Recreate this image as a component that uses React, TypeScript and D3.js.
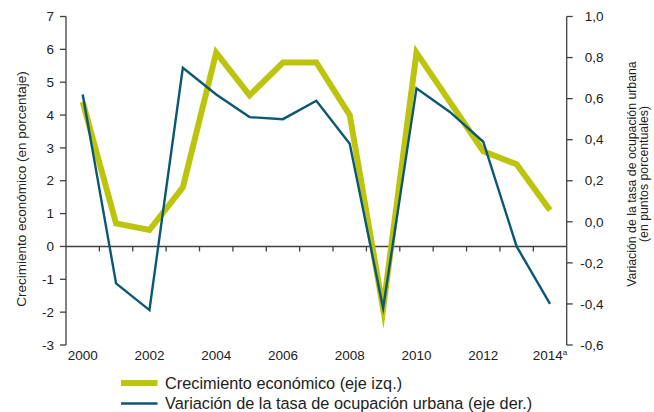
import React from "react";
import * as d3 from "d3";

const years = ["2000","2001","2002","2003","2004","2005","2006","2007","2008","2009","2010","2011","2012","2013","2014"];
const yearLabels = ["2000","","2002","","2004","","2006","","2008","","2010","","2012","","2014"];
const growth = [4.4, 0.7, 0.5, 1.8, 5.9, 4.6, 5.6, 5.6, 4.0, -1.9, 5.9, 4.4, 2.9, 2.5, 1.1];
const employment = [0.62, -0.30, -0.43, 0.75, 0.62, 0.51, 0.50, 0.59, 0.38, -0.42, 0.65, 0.535, 0.39, -0.12, -0.40];
const leftTicks = [7, 6, 5, 4, 3, 2, 1, 0, -1, -2, -3];
const rightTicks = [1.0, 0.8, 0.6, 0.4, 0.2, 0.0, -0.2, -0.4, -0.6];
const seriesNames = ["Crecimiento económico (eje izq.)", "Variación de la tasa de ocupación urbana (eje der.)"];

const YELLOW = "#BDC40E";
const BLUE = "#0B5874";
const AXIS = "#404040";
const TEXT = "#222";
const FONT = "'Liberation Sans', Arial, sans-serif";

export default function App() {
  const W = 654, H = 412;
  const x0 = 66, x1 = 566.7, yTop = 16.5, yBot = 345;
  const x = d3.scaleBand<string>().domain(years).range([x0, x1]);
  const yL = d3.scaleLinear().domain([-3, 7]).range([yBot, yTop]);
  const yR = d3.scaleLinear().domain([-0.6, 1.0]).range([yBot, yTop]);
  const cx = (i: number) => (x(years[i]) as number) + x.bandwidth() / 2;
  const lineL = d3.line<number>().x((_, i) => cx(i)).y(d => yL(d));
  const lineR = d3.line<number>().x((_, i) => cx(i)).y(d => yR(d));
  const y0 = yL(0);
  const fmt = (v: number) => (v < 0 ? "-" : "") + Math.abs(v).toFixed(1).replace(".", ",");

  return (
    <svg width={W} height={H} style={{ position: "absolute", left: 0, top: 0, fontFamily: FONT }}>
      <rect width={W} height={H} fill="#fff" />
      {/* left axis */}
      <line x1={x0} x2={x0} y1={yTop} y2={yBot} stroke={AXIS} strokeWidth={1.3} />
      {leftTicks.map(t => (
        <g key={"l" + t}>
          <line x1={x0 - 6} x2={x0} y1={yL(t)} y2={yL(t)} stroke={AXIS} strokeWidth={1.3} />
          <text x={x0 - 12} y={yL(t)} dy="0.35em" textAnchor="end" fontSize={13.5} fill={TEXT}>{t}</text>
        </g>
      ))}
      {/* right axis */}
      <line x1={x1} x2={x1} y1={yTop} y2={yBot} stroke={AXIS} strokeWidth={1.3} />
      {rightTicks.map(t => (
        <g key={"r" + t}>
          <line x1={x1} x2={x1 + 6} y1={yR(t)} y2={yR(t)} stroke={AXIS} strokeWidth={1.3} />
          <text x={603.5} y={yR(t)} dy="0.35em" textAnchor="end" fontSize={13.5} fill={TEXT}>{fmt(t)}</text>
        </g>
      ))}
      {/* zero line & x ticks */}
      <line x1={x0} x2={x1} y1={y0} y2={y0} stroke={AXIS} strokeWidth={1.5} />
      {years.slice(1).map(yv => (
        <line key={"xt" + yv} x1={x(yv) as number} x2={x(yv) as number} y1={y0} y2={y0 + 5} stroke={AXIS} strokeWidth={1.3} />
      ))}
      {years.map((yv, i) => yearLabels[i] ? (
        <text key={"xl" + yv} x={cx(i)} y={360} textAnchor="middle" fontSize={13.5} fill={TEXT}>
          {yearLabels[i]}{i === years.length - 1 ? <tspan fontSize={8} dy={-5}>a</tspan> : null}
        </text>
      ) : null)}
      {/* series */}
      <path d={lineL(growth) || ""} fill="none" stroke={YELLOW} strokeWidth={6} strokeLinejoin="miter" strokeMiterlimit={10} />
      <path d={lineR(employment) || ""} fill="none" stroke={BLUE} strokeWidth={2.4} strokeLinejoin="miter" strokeMiterlimit={10} />
      {/* axis titles */}
      <text transform={`translate(26,189) rotate(-90)`} textAnchor="middle" fontSize={13.5} fill={TEXT}>
        Crecimiento económico (en porcentaje)
      </text>
      <text transform={`translate(636,174) rotate(-90)`} textAnchor="middle" fontSize={12.3} fill={TEXT}>
        Variación de la tasa de ocupación urbana
      </text>
      <text transform={`translate(648,174) rotate(-90)`} textAnchor="middle" fontSize={12.3} fill={TEXT}>
        (en puntos porcentuales)
      </text>
      {/* legend */}
      <line x1={121} x2={157.5} y1={383} y2={383} stroke={YELLOW} strokeWidth={6} />
      <text x={165} y={383} dy="0.35em" fontSize={16.3} fill={TEXT}>{seriesNames[0]}</text>
      <line x1={121} x2={157.5} y1={403.5} y2={403.5} stroke={BLUE} strokeWidth={2.4} />
      <text x={165} y={403.5} dy="0.33em" fontSize={16.3} fill={TEXT}>{seriesNames[1]}</text>
    </svg>
  );
}
